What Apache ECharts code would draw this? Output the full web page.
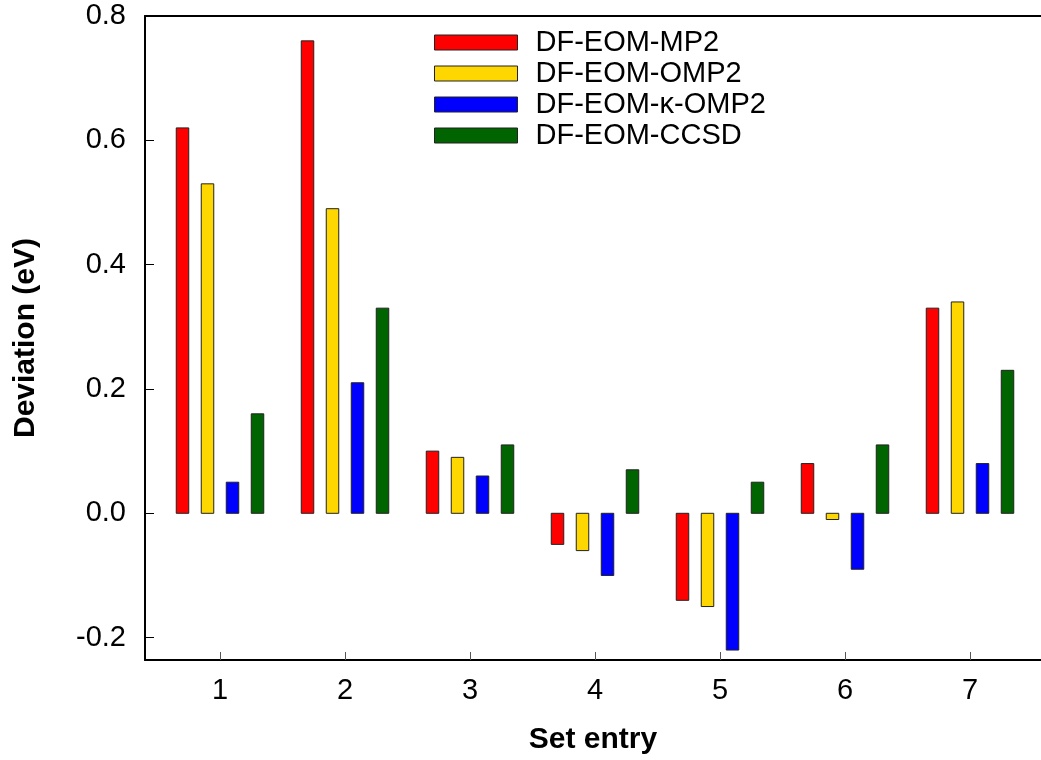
<!DOCTYPE html>
<html>
<head>
<meta charset="utf-8">
<script src="https://cdn.jsdelivr.net/npm/echarts@6/dist/echarts.min.js"></script>
<style>
html, body { margin: 0; padding: 0; background: #fff; }
#chart { width: 1041px; height: 760px; }
</style>
</head>
<body>
<div id="chart"></div>
<script>
const categories = [1, 2, 3, 4, 5, 6, 7];
const seriesNames = ['DF-EOM-MP2', 'DF-EOM-OMP2', 'DF-EOM-\u03BA-OMP2', 'DF-EOM-CCSD'];
const mp2Values   = [0.62, 0.76, 0.10, -0.05, -0.14, 0.08, 0.33];
const omp2Values  = [0.53, 0.49, 0.09, -0.06, -0.15, -0.01, 0.34];
const komp2Values = [0.05, 0.21, 0.06, -0.10, -0.22, -0.09, 0.08];
const ccsdValues  = [0.16, 0.33, 0.11, 0.07, 0.05, 0.11, 0.23];
const yTickValues = [-0.2, 0.0, 0.2, 0.4, 0.6, 0.8];
const xTickValues = [1, 2, 3, 4, 5, 6, 7];

const seriesValues = [mp2Values, omp2Values, komp2Values, ccsdValues];
const colors = ['#ff0000', '#ffd700', '#0000ff', '#006400'];
const offsets = [-0.3, -0.1, 0.1, 0.3];
const barW = 0.1;
const FONT = 'Liberation Sans, Arial, Helvetica, sans-serif';

function makeRender(offset) {
  return function (params, api) {
    const x = api.value(0), y = api.value(1);
    const p0 = api.coord([x + offset - barW / 2, 0]);
    const p1 = api.coord([x + offset + barW / 2, y]);
    return {
      type: 'rect',
      shape: {
        x: p0[0],
        y: Math.min(p0[1], p1[1]),
        width: p1[0] - p0[0],
        height: Math.abs(p1[1] - p0[1])
      },
      style: api.style()
    };
  };
}

const series = seriesNames.map((name, i) => ({
  name: name,
  type: 'custom',
  xAxisIndex: 0,
  yAxisIndex: 0,
  clip: false,
  renderItem: makeRender(offsets[i]),
  itemStyle: { color: colors[i], borderColor: '#222', borderWidth: 1 },
  data: categories.map((c, j) => [c, seriesValues[i][j]]),
  encode: { x: 0, y: 1 }
}));

const chart = echarts.init(document.getElementById('chart'), null, { renderer: 'canvas' });
chart.setOption({
  animation: false,
  backgroundColor: '#fff',
  grid: { left: 145, right: 0, top: 16, bottom: 100, containLabel: false },
  legend: {
    orient: 'vertical',
    left: 429,
    top: 23,
    icon: 'rect',
    itemWidth: 83,
    itemHeight: 15,
    itemGap: 2,
    itemStyle: { borderColor: '#222', borderWidth: 1 },
    textStyle: { fontFamily: FONT, fontSize: 29, color: '#000', lineHeight: 26, padding: [0, 0, 0, 13] },
    data: seriesNames
  },
  xAxis: [{
    type: 'value',
    min: 0.4,
    max: 7.568,
    name: 'Set entry',
    nameLocation: 'middle',
    nameGap: 65,
    nameTextStyle: { fontFamily: FONT, fontSize: 30, fontWeight: 'bold', color: '#000' },
    axisLine: { show: true, onZero: false, lineStyle: { color: '#000', width: 2 } },
    axisTick: { show: true, inside: true, length: 8, customValues: xTickValues, lineStyle: { color: '#555', width: 1 } },
    axisLabel: { show: true, margin: 16, customValues: xTickValues, fontFamily: FONT, fontSize: 29, color: '#000' },
    splitLine: { show: false }
  }, {
    type: 'value',
    position: 'top',
    min: 0.4,
    max: 7.568,
    axisLine: { show: true, onZero: false, lineStyle: { color: '#000', width: 2 } },
    axisTick: { show: false },
    axisLabel: { show: false },
    splitLine: { show: false }
  }],
  yAxis: {
    type: 'value',
    min: -0.236,
    max: 0.8,
    name: 'Deviation (eV)',
    nameLocation: 'middle',
    nameGap: 104,
    nameTextStyle: { fontFamily: FONT, fontSize: 30, fontWeight: 'bold', color: '#000' },
    axisLine: { show: true, onZero: false, lineStyle: { color: '#000', width: 2 } },
    axisTick: { show: true, inside: true, length: 9, customValues: yTickValues, lineStyle: { color: '#000', width: 1 } },
    axisLabel: {
      show: true, margin: 19, customValues: yTickValues, fontFamily: FONT, fontSize: 29, color: '#000',
      formatter: v => v.toFixed(1)
    },
    splitLine: { show: false }
  },
  series: series
});
</script>
</body>
</html>
